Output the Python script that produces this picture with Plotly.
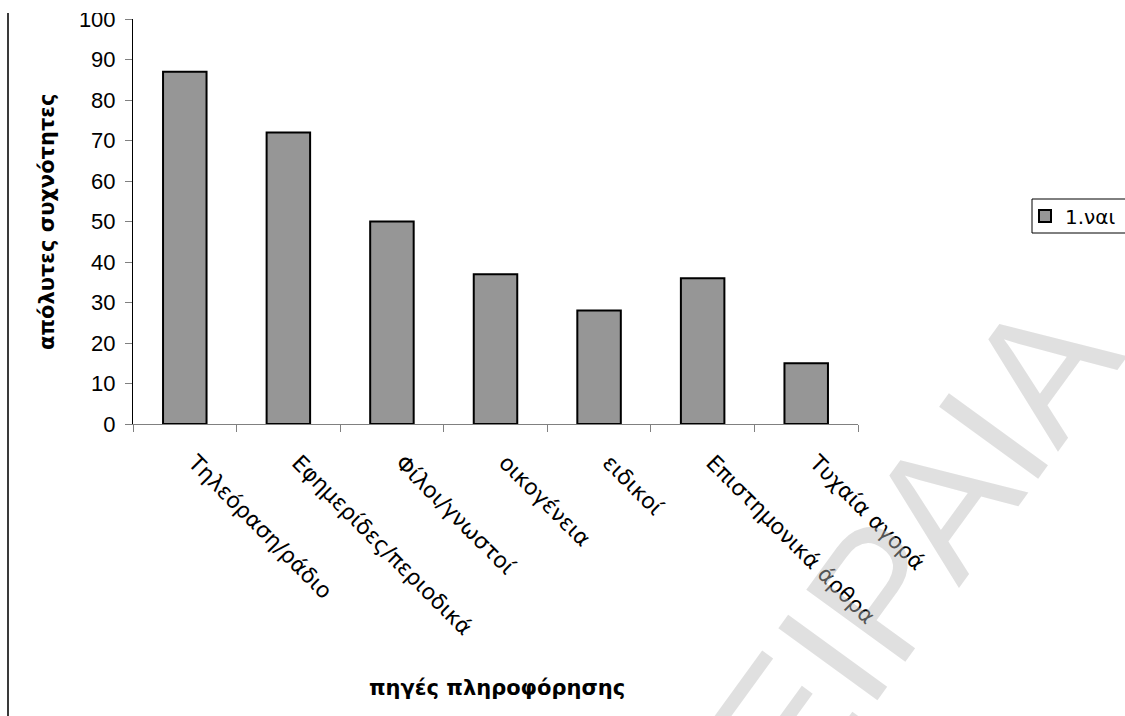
import plotly.graph_objects as go

# Information sources and absolute frequencies of "yes" answers
categories = [
    "Τηλεόραση/ράδιο",
    "Εφημερίδες/περιοδικά",
    "Φίλοι/γνωστοί",
    "οικογένεια",
    "ειδικοί",
    "Επιστημονικά άρθρα",
    "Τυχαία αγορά",
]
values = [87, 72, 50, 37, 28, 36, 15]
series_name = "1.ναι"
y_ticks = list(range(0, 101, 10))

W, H = 1125, 716
L, R, T, B = 133, 267, 19, 292
PW, PH = W - L - R, H - T - B


def px_x(p):
    return (p - L) / PW


def px_y(p):
    return (H - B - p) / PH


fig = go.Figure()
fig.add_trace(go.Bar(
    x=categories,
    y=values,
    name=series_name,
    width=0.42,
    marker=dict(color="#969696", line=dict(color="#000000", width=2)),
    showlegend=True,
))

fig.update_layout(
    width=W,
    height=H,
    margin=dict(l=L, r=R, t=T, b=B, autoexpand=False),
    paper_bgcolor="white",
    plot_bgcolor="white",
    showlegend=True,
    legend=dict(
        x=px_x(1025), y=px_y(216), xanchor="left", yanchor="middle",
        bgcolor="rgba(0,0,0,0)", borderwidth=0,
        font=dict(family="DejaVu Sans", size=20, color="#000"),
    ),
    xaxis=dict(
        type="category",
        showline=True, linecolor="#808080", linewidth=1,
        ticks="outside", tickson="boundaries", ticklen=7, tickcolor="#808080",
        tickangle=45,
        tickfont=dict(family="DejaVu Sans", size=22, color="#000"),
        ticklabelstandoff=16,
        ticklabelshift=10,
        showgrid=False, zeroline=False,
    ),
    yaxis=dict(
        range=[0, 100],
        tickvals=y_ticks,
        showline=True, linecolor="#000", linewidth=1,
        ticks="outside", ticklen=7, tickcolor="#808080",
        tickfont=dict(family="Liberation Sans, Arial", size=22, color="#000"),
        ticklabelstandoff=5,
        showgrid=False, zeroline=False,
    ),
    annotations=[
        dict(text="<b>απόλυτες συχνότητες</b>", xref="paper", yref="paper",
             x=px_x(47), y=px_y(222), textangle=-90, showarrow=False,
             xanchor="center", yanchor="middle",
             font=dict(family="DejaVu Sans", size=21, color="#000")),
        dict(text="<b>πηγές πληροφόρησης</b>", xref="paper", yref="paper",
             x=px_x(497), y=px_y(688), showarrow=False,
             xanchor="center", yanchor="middle",
             font=dict(family="DejaVu Sans", size=21, color="#000")),
        # faint diagonal watermark
        dict(text="ΠΕΙΡΑΙΑ", xref="paper", yref="paper",
             x=px_x(875), y=px_y(598), textangle=-54, showarrow=False,
             xanchor="center", yanchor="middle",
             font=dict(family="Liberation Sans, Arial", size=178,
                       color="rgba(187,187,187,0.45)")),
    ],
    shapes=[
        # page rule on the left
        dict(type="line", xref="paper", yref="paper",
             x0=px_x(8), x1=px_x(8), y0=px_y(13), y1=px_y(716),
             line=dict(color="#3a3a3a", width=2)),
        # top crop band
        dict(type="rect", xref="paper", yref="paper", layer="above",
             x0=px_x(0), x1=px_x(200), y0=px_y(13), y1=px_y(0),
             fillcolor="white", line=dict(width=0)),
        # legend frame
        dict(type="rect", xref="paper", yref="paper",
             x0=px_x(1032), x1=px_x(1140), y0=px_y(233), y1=px_y(199),
             line=dict(color="#000", width=1), fillcolor="rgba(0,0,0,0)"),
    ],
)

fig.write_html("out.html")
